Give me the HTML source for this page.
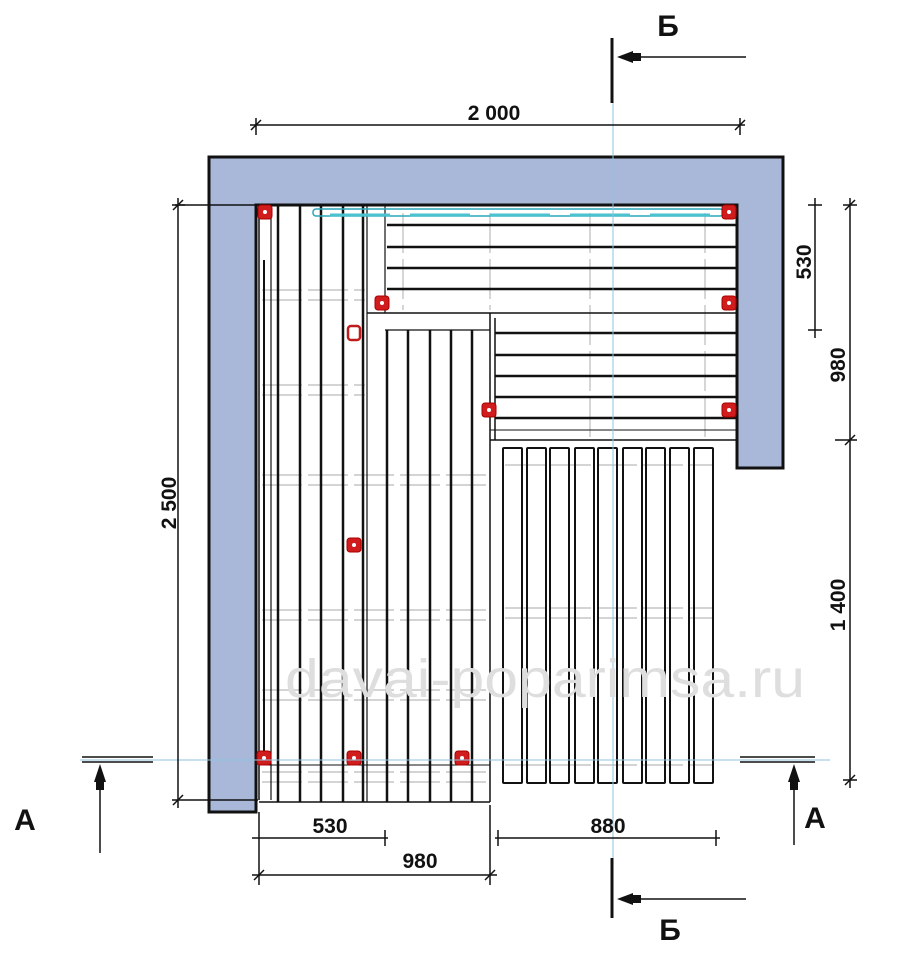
<!DOCTYPE html>
<html><head><meta charset="utf-8"><style>
html,body{margin:0;padding:0;background:#fff;}
svg{display:block;font-family:"Liberation Sans",Arial,sans-serif;}
</style></head><body>
<svg width="919" height="959" viewBox="0 0 919 959" xmlns="http://www.w3.org/2000/svg">
<path d="M209,157 L783,157 L783,468 L737,468 L737,205 L256,205 L256,812 L209,812 Z" fill="#a9b7d8" stroke="#111" stroke-width="3"/>
<line x1="175" y1="205" x2="256" y2="205" stroke="#111" stroke-width="1.5"/>

<g stroke="#bbb" stroke-width="1.2" stroke-dasharray="40 6">
<line x1="262" y1="290" x2="365" y2="290"/><line x1="262" y1="300" x2="365" y2="300"/>
<line x1="262" y1="385" x2="365" y2="385"/><line x1="262" y1="395" x2="365" y2="395"/>
<line x1="262" y1="475" x2="490" y2="475"/><line x1="262" y1="485" x2="490" y2="485"/>
<line x1="262" y1="610" x2="490" y2="610"/><line x1="262" y1="620" x2="490" y2="620"/>
<line x1="262" y1="690" x2="490" y2="690"/><line x1="262" y1="700" x2="490" y2="700"/>
<line x1="505" y1="465" x2="712" y2="465"/>
<line x1="505" y1="608" x2="712" y2="608"/><line x1="505" y1="618" x2="712" y2="618"/>
<line x1="505" y1="765" x2="712" y2="765"/>
<line x1="262" y1="772" x2="490" y2="772"/><line x1="262" y1="782" x2="490" y2="782"/>
<line x1="403" y1="213" x2="403" y2="310"/><line x1="490" y1="213" x2="490" y2="310"/>
<line x1="590" y1="213" x2="590" y2="440"/><line x1="705" y1="213" x2="705" y2="440"/>
</g>

<g stroke="#111" fill="none">
<line x1="259" y1="205" x2="259" y2="800" stroke-width="1.5"/>
<line x1="264" y1="260" x2="264" y2="760" stroke-width="2"/>
<line x1="271" y1="205" x2="271" y2="800" stroke-width="1.2"/>
<g stroke-width="2.5">
<line x1="278" y1="205" x2="278" y2="802"/>
<line x1="300" y1="205" x2="300" y2="802"/>
<line x1="321" y1="205" x2="321" y2="802"/>
<line x1="343" y1="205" x2="343" y2="802"/>
<line x1="363" y1="205" x2="363" y2="802"/>
</g>
<line x1="367" y1="205" x2="367" y2="802" stroke-width="1.2"/>
<line x1="385" y1="205" x2="385" y2="313" stroke-width="1.2"/>
<line x1="367" y1="313" x2="737" y2="313" stroke-width="1.5"/>
<line x1="385" y1="330" x2="490" y2="330" stroke-width="1.2"/>
<g stroke-width="2.5">
<line x1="387" y1="330" x2="387" y2="802"/>
<line x1="408" y1="330" x2="408" y2="802"/>
<line x1="430" y1="330" x2="430" y2="802"/>
<line x1="451" y1="330" x2="451" y2="802"/>
<line x1="472" y1="330" x2="472" y2="802"/>
</g>
<line x1="490" y1="313" x2="490" y2="802" stroke-width="1.5"/>
<line x1="259" y1="802" x2="490" y2="802" stroke-width="1.5"/>
<line x1="259" y1="765" x2="490" y2="765" stroke-width="1"/>
<g stroke-width="2.5">
<line x1="387" y1="225" x2="737" y2="225"/>
<line x1="387" y1="247" x2="737" y2="247"/>
<line x1="387" y1="268" x2="737" y2="268"/>
<line x1="387" y1="289" x2="737" y2="289"/>
</g>
<g stroke-width="2.5">
<line x1="495" y1="333" x2="737" y2="333"/>
<line x1="495" y1="355" x2="737" y2="355"/>
<line x1="495" y1="376" x2="737" y2="376"/>
<line x1="495" y1="397" x2="737" y2="397"/>
<line x1="495" y1="418" x2="737" y2="418"/>
</g>
<line x1="495" y1="318" x2="495" y2="440" stroke-width="1.5"/>
<line x1="490" y1="430" x2="737" y2="430" stroke-width="1"/>
<line x1="490" y1="440" x2="737" y2="440" stroke-width="1.5"/>
<g stroke-width="2">
<rect x="503" y="448" width="19" height="335" rx="1"/>
<rect x="527" y="448" width="19" height="335" rx="1"/>
<rect x="550" y="448" width="19" height="335" rx="1"/>
<rect x="575" y="448" width="19" height="335" rx="1"/>
<rect x="598" y="448" width="19" height="335" rx="1"/>
<rect x="623" y="448" width="19" height="335" rx="1"/>
<rect x="646" y="448" width="19" height="335" rx="1"/>
<rect x="670" y="448" width="19" height="335" rx="1"/>
<rect x="694" y="448" width="19" height="335" rx="1"/>
</g>
</g>
<rect x="313" y="209" width="410" height="7" rx="3" fill="none" stroke="#2aa6b8" stroke-width="1.5"/>
<line x1="330" y1="215" x2="710" y2="215" stroke="#4cc2cf" stroke-width="3" stroke-dasharray="60 20"/>

<g fill="#d01c1c" stroke="#a00" stroke-width="1">
<rect x="258" y="205" width="14" height="14" rx="3"/>
<rect x="722" y="205" width="14" height="14" rx="3"/>
<rect x="375" y="296" width="14" height="14" rx="3"/>
<rect x="722" y="296" width="14" height="14" rx="3"/>
<rect x="482" y="403" width="14" height="14" rx="3"/>
<rect x="722" y="403" width="14" height="14" rx="3"/>
<rect x="347" y="538" width="14" height="14" rx="3"/>
<rect x="257" y="751" width="14" height="14" rx="3"/>
<rect x="347" y="751" width="14" height="14" rx="3"/>
<rect x="455" y="751" width="14" height="14" rx="3"/>
</g>
<rect x="348" y="326" width="12" height="14" rx="3" fill="#fff" stroke="#c01c1c" stroke-width="2.5"/>
<g fill="#fff"><circle cx="265" cy="212" r="2"/><circle cx="729" cy="212" r="2"/><circle cx="382" cy="303" r="2"/><circle cx="729" cy="303" r="2"/><circle cx="489" cy="410" r="2"/><circle cx="729" cy="410" r="2"/><circle cx="354" cy="545" r="2"/><circle cx="264" cy="758" r="2"/><circle cx="354" cy="758" r="2"/><circle cx="462" cy="758" r="2"/></g>

<line x1="613" y1="100" x2="613" y2="862" stroke="#8fc3e0" stroke-width="1"/>
<line x1="80" y1="760" x2="830" y2="760" stroke="#8fc3e0" stroke-width="1"/>

<text x="545" y="697" font-size="54" fill="#dedede" text-anchor="middle" textLength="520" lengthAdjust="spacingAndGlyphs">davai-poparimsa.ru</text>

<g stroke="#111" stroke-width="1.5" fill="none">
<line x1="250" y1="125" x2="745" y2="125"/>
<line x1="256" y1="118" x2="256" y2="135"/><line x1="740" y1="118" x2="740" y2="135"/>
<line x1="251" y1="130" x2="261" y2="120"/><line x1="735" y1="130" x2="745" y2="120"/>
<line x1="178" y1="198" x2="178" y2="808"/>
<line x1="172" y1="205" x2="185" y2="205"/><line x1="172" y1="800" x2="258" y2="800"/>
<line x1="173" y1="210" x2="183" y2="200"/><line x1="173" y1="805" x2="183" y2="795"/>
<line x1="815" y1="198" x2="815" y2="338"/>
<line x1="808" y1="205" x2="822" y2="205"/><line x1="808" y1="330" x2="822" y2="330"/>
<line x1="850" y1="198" x2="850" y2="788"/>
<line x1="843" y1="205" x2="857" y2="205"/><line x1="835" y1="440" x2="857" y2="440"/><line x1="843" y1="780" x2="857" y2="780"/>
<line x1="845" y1="445" x2="855" y2="435"/><line x1="845" y1="785" x2="855" y2="775"/><line x1="845" y1="210" x2="855" y2="200"/>
<line x1="259" y1="812" x2="259" y2="885"/>
<line x1="490" y1="805" x2="490" y2="885"/>
<line x1="252" y1="838" x2="388" y2="838"/><line x1="385" y1="830" x2="385" y2="846"/>
<line x1="252" y1="875" x2="497" y2="875"/>
<line x1="498" y1="830" x2="498" y2="846"/><line x1="716" y1="830" x2="716" y2="846"/>
<line x1="495" y1="838" x2="720" y2="838"/>
<line x1="254" y1="880" x2="264" y2="870"/><line x1="485" y1="880" x2="495" y2="870"/>
</g>
<g font-size="21" font-weight="bold" fill="#111" text-anchor="middle">
<text x="494" y="120">2 000</text>
<text x="330" y="833">530</text>
<text x="420" y="868">980</text>
<text x="608" y="833">880</text>
<text transform="translate(176,503) rotate(-90)">2 500</text>
<text transform="translate(811,262) rotate(-90)">530</text>
<text transform="translate(845,365) rotate(-90)">980</text>
<text transform="translate(845,605) rotate(-90)">1 400</text>
</g>

<g stroke="#111">
<line x1="612" y1="38" x2="612" y2="103" stroke-width="3"/>
<line x1="612" y1="858" x2="612" y2="918" stroke-width="3"/>
<line x1="630" y1="57" x2="746" y2="57" stroke-width="1.5"/>
<line x1="630" y1="899" x2="746" y2="899" stroke-width="1.5"/>
<line x1="82" y1="757" x2="153" y2="757" stroke-width="1.5"/>
<line x1="82" y1="762" x2="153" y2="762" stroke-width="1.5"/>
<line x1="740" y1="757" x2="815" y2="757" stroke-width="1.5"/>
<line x1="740" y1="762" x2="815" y2="762" stroke-width="1.5"/>
<line x1="100" y1="770" x2="100" y2="853" stroke-width="1.5"/>
<line x1="794" y1="770" x2="794" y2="845" stroke-width="1.5"/>
</g>
<g fill="#111">
<polygon points="617,57 633,51 633,63"/><rect x="633" y="53" width="8" height="8"/>
<polygon points="617,899 633,893 633,905"/><rect x="633" y="895" width="8" height="8"/>
<polygon points="100,764 94,782 106,782"/><rect x="96" y="780" width="8" height="10"/>
<polygon points="794,764 788,782 800,782"/><rect x="790" y="780" width="8" height="10"/>
</g>
<g font-size="30" font-weight="bold" fill="#111" text-anchor="middle">
<text x="668" y="36">Б</text>
<text x="670" y="940">Б</text>
<text x="25" y="830">А</text>
<text x="815" y="828">А</text>
</g>
</svg>
</body></html>
